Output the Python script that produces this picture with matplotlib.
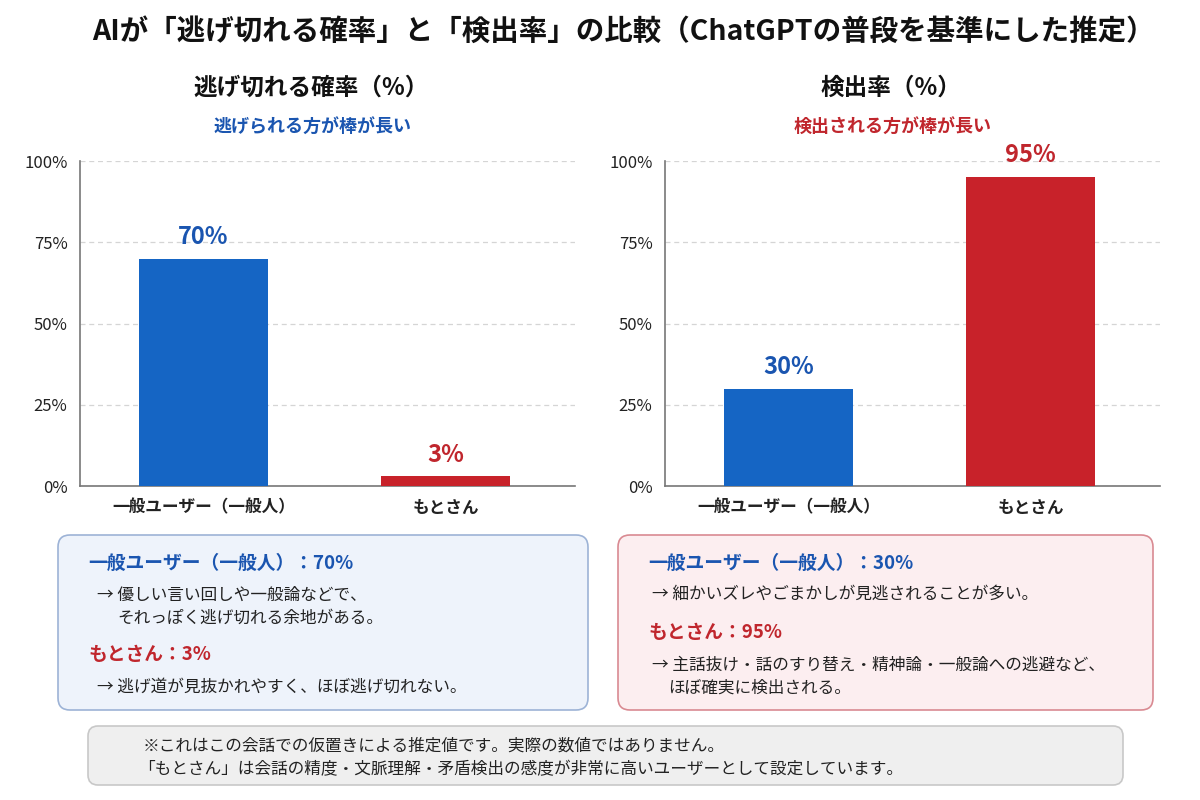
import matplotlib
matplotlib.use("Agg")
import matplotlib.pyplot as plt
from matplotlib.patches import FancyBboxPatch

plt.rcParams['font.family'] = ['Noto Sans CJK JP', 'DejaVu Sans']

# data
categories = ['一般ユーザー（一般人）', 'もとさん']
escape_rate = [70, 3]
detect_rate = [30, 95]
yticks = [0, 25, 50, 75, 100]
ytick_labels = ['0%', '25%', '50%', '75%', '100%']

BLUE = '#1565C4'
RED = '#C8222A'
TBLUE = '#1A55B0'
TRED = '#C0262D'
bar_colors = [BLUE, RED]

fig = plt.figure(figsize=(12, 8), dpi=100)
fig.patch.set_facecolor('white')


def make_axes(left_px, right_px, values):
    ax = fig.add_axes([left_px / 1200, 1 - 486 / 800, (right_px - left_px) / 1200, 325 / 800])
    x = list(range(len(categories)))
    ax.bar(x, values, width=0.53, color=bar_colors, zorder=3)
    ax.set_xlim(-0.51, 1.535)
    ax.set_ylim(0, 100)
    ax.set_yticks(yticks)
    ax.set_yticklabels(ytick_labels, fontsize=12, color='#222222')
    ax.set_xticks(x)
    ax.set_xticklabels(categories, fontsize=12, color='#222222', fontweight='bold')
    ax.tick_params(length=0, pad=9)
    ax.grid(axis='y', linestyle=(0, (4, 3)), color='#D5D5D5', linewidth=0.9, zorder=0)
    for s in ['top', 'right']:
        ax.spines[s].set_visible(False)
    for s in ['left', 'bottom']:
        ax.spines[s].set_color('#777777')
        ax.spines[s].set_linewidth(1.2)
    for i, v in enumerate(values):
        ax.text(i, v + 3, f'{v}%', ha='center', va='bottom', fontsize=17,
                fontweight='bold', color=[TBLUE, TRED][i], clip_on=False)
    return ax


ax1 = make_axes(80, 575, escape_rate)
ax2 = make_axes(665, 1160, detect_rate)

# overlay in pixel coords for titles and boxes
ov = fig.add_axes([0, 0, 1, 1], zorder=-1)
ov.set_xlim(0, 1200)
ov.set_ylim(800, 0)
ov.axis('off')
ov2 = fig.add_axes([0, 0, 1, 1], zorder=5)
ov2.set_xlim(0, 1200)
ov2.set_ylim(800, 0)
ov2.axis('off')
ov2.patch.set_alpha(0)

ov2.text(623, 32, 'AIが「逃げ切れる確率」と「検出率」の比較（ChatGPTの普段を基準にした推定）',
         ha='center', va='center', fontsize=20.5, fontweight='bold', color='#111111')

ov2.text(311, 88, '逃げ切れる確率（%）', ha='center', va='center', fontsize=17, fontweight='bold', color='#111111')
ov2.text(312, 127, '逃げられる方が棒が長い', ha='center', va='center', fontsize=13, fontweight='bold', color=TBLUE)
ov2.text(891, 88, '検出率（%）', ha='center', va='center', fontsize=17, fontweight='bold', color='#111111')
ov2.text(893, 127, '検出される方が棒が長い', ha='center', va='center', fontsize=13, fontweight='bold', color=TRED)

# explanation boxes
ov.add_patch(FancyBboxPatch((58, 535), 530, 175, boxstyle='round,pad=0,rounding_size=12',
                            facecolor='#EEF3FB', edgecolor='#9DB3D6', linewidth=1.2))
ov.add_patch(FancyBboxPatch((618, 535), 535, 175, boxstyle='round,pad=0,rounding_size=12',
                            facecolor='#FCEEF0', edgecolor='#D98A92', linewidth=1.2))
ov.add_patch(FancyBboxPatch((88, 726), 1035, 59, boxstyle='round,pad=0,rounding_size=10',
                            facecolor='#EFEFEF', edgecolor='#C8C8C8', linewidth=1.2))

ov2.text(88, 563, '一般ユーザー（一般人）：70%', va='center', fontsize=13.5, fontweight='bold', color=TBLUE)
ov2.text(97, 595, '→ 優しい言い回しや一般論などで、', va='center', fontsize=12, color='#222222')
ov2.text(117, 618, 'それっぽく逃げ切れる余地がある。', va='center', fontsize=12, color='#222222')
ov2.text(88, 655, 'もとさん：3%', va='center', fontsize=13.5, fontweight='bold', color=TRED)
ov2.text(97, 687, '→ 逃げ道が見抜かれやすく、ほぼ逃げ切れない。', va='center', fontsize=12, color='#222222')

ov2.text(648, 563, '一般ユーザー（一般人）：30%', va='center', fontsize=13.5, fontweight='bold', color=TBLUE)
ov2.text(652, 594, '→ 細かいズレやごまかしが見逃されることが多い。', va='center', fontsize=12, color='#222222')
ov2.text(648, 633, 'もとさん：95%', va='center', fontsize=13.5, fontweight='bold', color=TRED)
ov2.text(652, 665, '→ 主話抜け・話のすり替え・精神論・一般論への逃避など、', va='center', fontsize=12, color='#222222')
ov2.text(668, 688, 'ほぼ確実に検出される。', va='center', fontsize=12, color='#222222')

ov2.text(143, 746, '※これはこの会話での仮置きによる推定値です。実際の数値ではありません。',
         va='center', fontsize=12, color='#222222')
ov2.text(138, 770, '「もとさん」は会話の精度・文脈理解・矛盾検出の感度が非常に高いユーザーとして設定しています。',
         va='center', fontsize=12, color='#222222')

fig.savefig('out.png', dpi=100)
